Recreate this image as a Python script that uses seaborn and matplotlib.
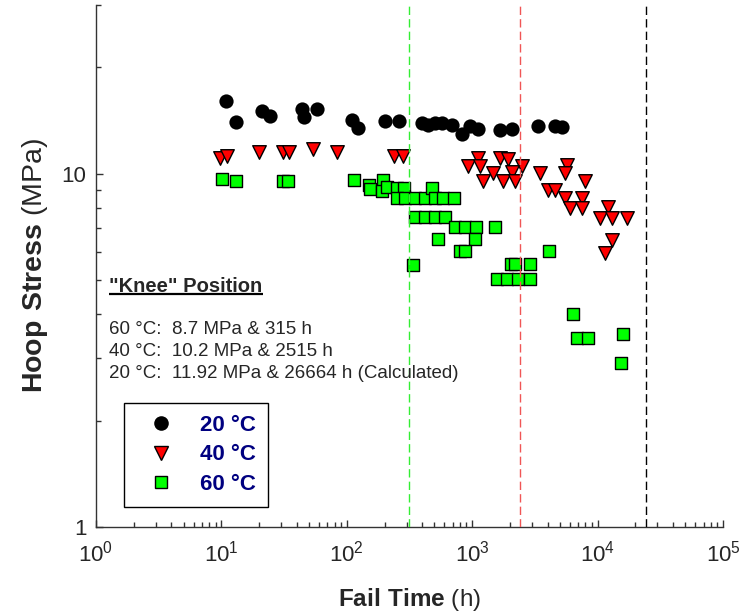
import matplotlib
matplotlib.use("Agg")
import matplotlib.pyplot as plt
import seaborn as sns
from matplotlib.lines import Line2D
from matplotlib.ticker import LogLocator, FuncFormatter, NullFormatter, FixedLocator

# fail time (h) and hoop stress (MPa)
t20 = [10.9, 13.0, 21.1, 24.5, 44, 45.8, 57.8, 111, 122, 200, 261, 395, 447, 505,
       571, 686, 824, 960, 1119, 1667, 2065, 3367, 4571, 5170]
s20 = [16.1, 14.0, 15.0, 14.6, 15.2, 14.5, 15.2, 14.2, 13.5, 14.1, 14.1, 13.86, 13.76, 13.9,
       13.86, 13.76, 12.98, 13.68, 13.39, 13.3, 13.39, 13.6, 13.68, 13.55]

t40 = [9.75, 11.0, 20.1, 31.2, 34.8, 54, 83, 238, 282, 931, 1119, 1154, 1667, 1941, 2483,
       1473, 2065, 1227, 1770, 2193, 3473, 5665, 5495, 7940, 4047, 4571, 5495, 7470, 6026,
       7470, 12170, 10450, 12950, 17050, 12950, 11460]
s40 = [11.08, 11.2, 11.49, 11.49, 11.49, 11.77, 11.5, 11.2, 11.2, 10.49, 11.08, 10.49, 11.08,
       11.0, 10.54, 10.05, 10.09, 9.51, 9.51, 9.51, 10.05, 10.6, 10.05, 9.51, 9.01, 9.01, 8.54,
       8.54, 8.0, 8.0, 8.05, 7.49, 7.49, 7.49, 6.5, 5.98]

t60 = [10.05, 13.0, 31.2, 34.2, 114, 151, 153, 196, 192, 208, 250, 286, 250, 291, 350,
       421, 475, 505, 589, 716, 350, 421, 505, 607, 729, 877, 1067, 1520, 537, 1052,
       800, 877, 339, 4121, 2030, 2200, 2890, 1567, 1884, 2333, 2890, 6400, 6810, 8430,
       16030, 15280]
s60 = [9.66, 9.55, 9.55, 9.55, 9.57, 9.31, 9.05, 9.61, 8.95, 9.17, 9.11, 9.11, 8.54, 8.54, 8.54,
       8.54, 9.11, 8.54, 8.54, 8.54, 7.52, 7.52, 7.52, 7.52, 7.04, 7.04, 7.04, 7.04, 6.53, 6.53,
       6.03, 6.03, 5.52, 6.03, 5.55, 5.55, 5.55, 5.03, 5.03, 5.03, 5.03, 4.01, 3.42, 3.42,
       3.52, 2.91]

knee_times = [315, 2420, 24300]
knee_colors = ["#33ee33", "#f05555", "black"]
knee_lines = ["60 °C:  8.7 MPa & 315 h",
              "40 °C:  10.2 MPa & 2515 h",
              "20 °C:  11.92 MPa & 26664 h (Calculated)"]

sns.set_style("ticks")
plt.rcParams["font.family"] = ["Liberation Sans", "DejaVu Sans"]
plt.rcParams["mathtext.fontset"] = "custom"
plt.rcParams["mathtext.rm"] = "Liberation Sans"
plt.rcParams["mathtext.bf"] = "Liberation Sans:bold"

fig = plt.figure(figsize=(7.44, 6.15), dpi=100)
ax = fig.add_axes([0.129, 0.1431, 0.8428, 0.8488])

sns.scatterplot(x=t20, y=s20, marker="o", color="black", s=105, linewidth=0,
                ax=ax, zorder=2)
sns.scatterplot(x=t40, y=s40, marker="v", color="#ff0000", s=95, edgecolor="black",
                linewidth=1, ax=ax, zorder=2)
sns.scatterplot(x=t60, y=s60, marker="s", color="#00ff00", s=78, edgecolor="black",
                linewidth=1, ax=ax, zorder=2)

for t, c in zip(knee_times, knee_colors):
    ax.axvline(t, color=c, lw=1, ls=(0, (6, 3)), zorder=3)

ax.set_xscale("log")
ax.set_yscale("log")
ax.set_xlim(1, 1e5)
ax.set_ylim(1, 30)
sns.despine(ax=ax)
for sp in ("left", "bottom"):
    ax.spines[sp].set_linewidth(1.0)
    ax.spines[sp].set_color("#333333")

ax.xaxis.set_major_locator(LogLocator(base=10, numticks=10))
ax.xaxis.set_minor_locator(LogLocator(base=10, subs=range(2, 10), numticks=50))
ax.xaxis.set_minor_formatter(NullFormatter())
ax.yaxis.set_major_locator(FixedLocator([1, 10]))
ax.yaxis.set_major_formatter(FuncFormatter(lambda v, _: f"{v:g}"))
ax.yaxis.set_minor_locator(LogLocator(base=10, subs=range(2, 10), numticks=50))
ax.yaxis.set_minor_formatter(NullFormatter())
ax.tick_params(which="major", direction="in", length=5, width=1, labelsize=16,
               color="#333333")
ax.tick_params(axis="x", which="major", pad=10)
ax.tick_params(axis="y", which="major", pad=7)
ax.tick_params(which="minor", direction="in", length=3.5, width=1, color="#333333")

ax.set_xlabel(r"$\mathbf{Fail\ Time}$ (h)", fontsize=17.5, labelpad=14)
ax.set_ylabel(r"$\mathbf{Hoop\ Stress}$ (MPa)", fontsize=20.5, labelpad=8)

head = ax.text(0.0212, 0.4600, '"Knee" Position', transform=ax.transAxes,
               fontsize=14.5, fontweight="bold", va="center", ha="left")
ax.text(0.0212, 0.337, "\n".join(knee_lines), transform=ax.transAxes,
        fontsize=13.5, va="center", ha="left", linespacing=1.38)

handles = [
    Line2D([], [], ls="", marker="o", color="black", markersize=10.5, markeredgewidth=0),
    Line2D([], [], ls="", marker="v", markerfacecolor="#ff0000", markeredgecolor="black",
           markersize=10, markeredgewidth=1),
    Line2D([], [], ls="", marker="s", markerfacecolor="#00ff00", markeredgecolor="black",
           markersize=8.5, markeredgewidth=1),
]
leg = ax.legend(handles, ["20 °C", "40 °C", "60 °C"], loc="lower left",
                bbox_to_anchor=(0.045, 0.038), borderaxespad=0,
                frameon=True, fancybox=False, edgecolor="black", framealpha=1,
                prop={"weight": "bold", "size": 16}, handlelength=2.2,
                handletextpad=0.66, borderpad=0.55, labelspacing=0.38)
leg.get_frame().set_linewidth(1.0)
for txt in leg.get_texts():
    txt.set_color("#000080")

# underline the heading
fig.canvas.draw()
bb = head.get_window_extent()
inv = ax.transAxes.inverted()
(x0, y0), (x1, _) = inv.transform([[bb.x0, bb.y0 + 2], [bb.x1, bb.y1]])
ax.plot([x0, x1], [y0, y0], transform=ax.transAxes, color="black", lw=1.6,
        clip_on=False, solid_capstyle="butt")

fig.savefig("out.png", dpi=100)
